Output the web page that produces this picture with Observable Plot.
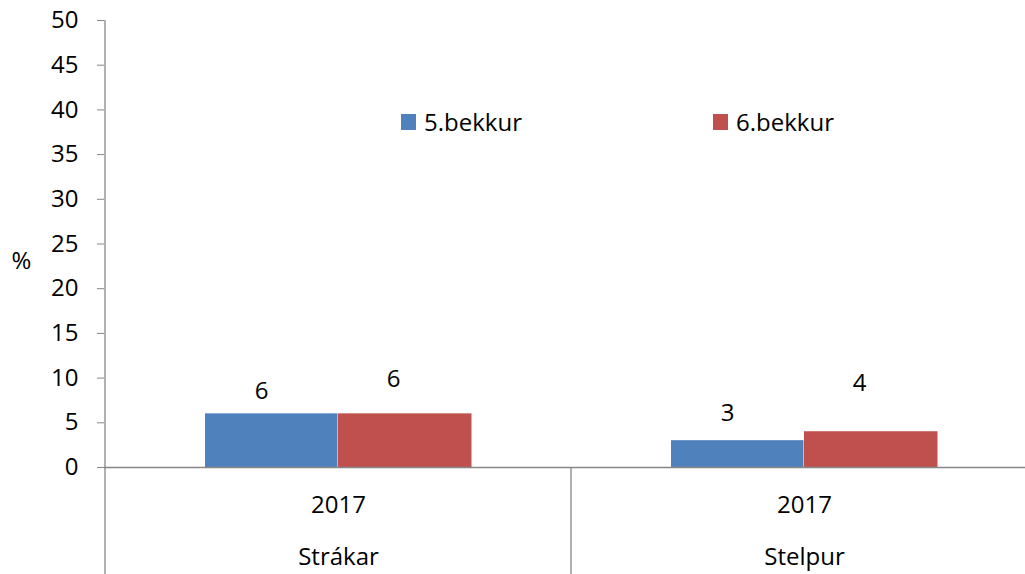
<!DOCTYPE html>
<html><head><meta charset="utf-8">
<script src="https://cdn.jsdelivr.net/npm/d3@7"></script>
<script src="https://cdn.jsdelivr.net/npm/@observablehq/plot@0.6"></script>
<style>
html,body{margin:0;padding:0;background:#fff;overflow:hidden;}
#chart{position:relative;width:1025px;height:574px;overflow:hidden;font-family:"Open Sans",sans-serif;}
#chart svg{max-width:none !important;width:1037px !important;height:574px !important;display:block;}
.item{position:absolute;display:flex;align-items:center;height:16px;font-size:24px;line-height:16px;color:#000;white-space:nowrap;}
.item .sw{display:inline-block;width:15px;height:16px;margin-right:8px;}
</style></head><body><div id="chart"></div>
<script>
const groups = ["Strákar", "Stelpur"];
const years = ["2017", "2017"];
const series = ["5.bekkur", "6.bekkur"];
const values5 = [6, 3];
const values6 = [6, 4];
const yTicks = [0, 5, 10, 15, 20, 25, 30, 35, 40, 45, 50];
const colors = ["#4F81BD", "#C0504D"];
const yLabel = "%";

const rows = groups.flatMap((g, i) => [
  {group: g, series: series[0], value: values5[i], year: years[i]},
  {group: g, series: series[1], value: values6[i], year: years[i]}
]);
const rows5 = rows.filter(d => d.series === series[0]);
const rows6 = rows.filter(d => d.series === series[1]);
const groupRows = groups.map((g, i) => ({group: g, year: years[i]}));

const gray = "#868686";
const font = "Open Sans";
// per-label vertical offsets (style only)
const labelDy = {"Strákar|5.bekkur": -23, "Stelpur|5.bekkur": -27, "Strákar|6.bekkur": -35, "Stelpur|6.bekkur": -48};
const labelMarks = rows.map(d => Plot.text([d], {
  x: "group", y: "value", text: d => String(d.value),
  dx: d.series === series[0] ? -77 : 55, dy: labelDy[d.group + "|" + d.series],
  fontSize: 24, fill: "#000"
}));

const plot = Plot.plot({
  width: 1037, height: 574,
  marginLeft: 104, marginRight: 0, marginTop: 20, marginBottom: 107,
  style: {fontFamily: font, fontSize: "24px", background: "#fff", color: "#000"},
  x: {domain: groups, padding: 0, axis: null},
  y: {domain: [0, 50], axis: null},
  color: {domain: series, range: colors},
  marks: [
    Plot.barY(rows5, {x: "group", y: "value", fill: "series", insetLeft: 100, insetRight: 233.5}),
    Plot.barY(rows6, {x: "group", y: "value", fill: "series", insetLeft: 233, insetRight: 99.5}),
    Plot.ruleY([0], {stroke: gray, strokeWidth: 1.3}),
    Plot.axisY({ticks: yTicks, tickSize: 7, tickPadding: 19, stroke: gray, fill: "#000", label: null, fontSize: 24}),
    ...labelMarks,
    Plot.text(groupRows, {x: "group", text: "year", frameAnchor: "bottom", lineAnchor: "middle", dy: 38, fontSize: 24, fill: "#000"}),
    Plot.text(groupRows, {x: "group", text: "group", frameAnchor: "bottom", lineAnchor: "middle", dy: 90, fontSize: 24, fill: "#000"}),
    Plot.text([yLabel], {text: d => d, frameAnchor: "left", textAnchor: "middle", lineAnchor: "middle", dx: -83, dy: 17, fontSize: 24, fill: "#000"})
  ]
});

// axis & category separator lines, placed with the plot's own scales
const xs = plot.scale("x"), ys = plot.scale("y");
const svg = d3.select(plot);
const g = svg.append("g").attr("stroke", gray).attr("stroke-width", 1.3);
groups.forEach((grp, i) => {
  const x = xs.apply(grp);
  g.append("line").attr("x1", x).attr("x2", x)
    .attr("y1", i === 0 ? ys.apply(50) : ys.apply(0)).attr("y2", 574);
});

const chart = document.getElementById("chart");
chart.appendChild(plot);
const legendLeft = [401, 713];
series.forEach((s, i) => {
  const it = document.createElement("div");
  it.className = "item";
  it.style.left = legendLeft[i] + "px";
  it.style.top = "114px";
  const sw = document.createElement("span");
  sw.className = "sw";
  sw.style.background = plot.scale("color").apply(s);
  it.appendChild(sw);
  it.appendChild(document.createTextNode(s));
  chart.appendChild(it);
});
</script></body></html>
